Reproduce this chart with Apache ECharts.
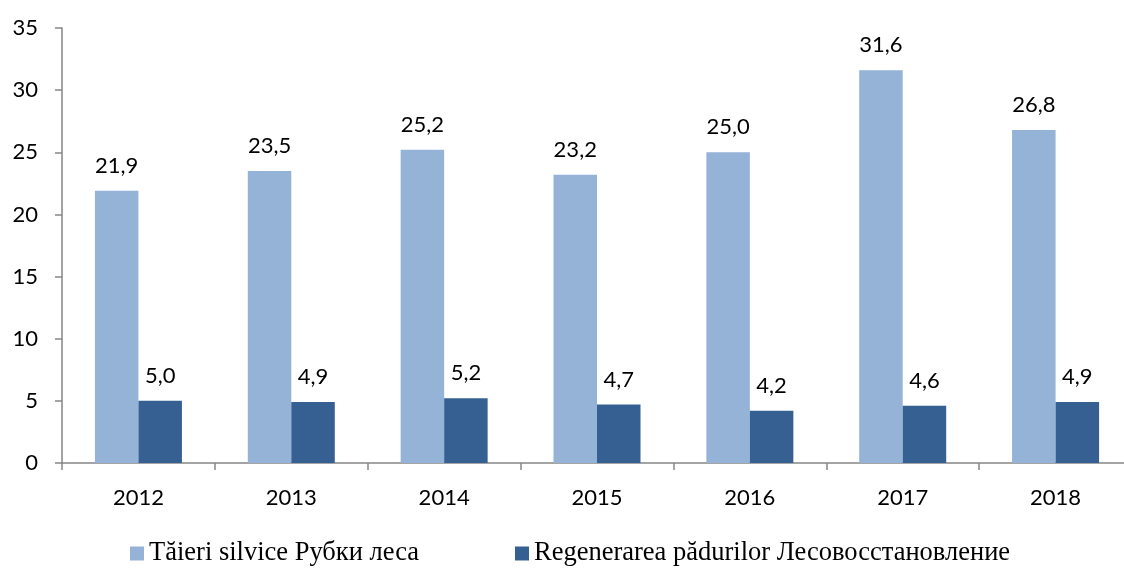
<!DOCTYPE html>
<html><head><meta charset="utf-8">
<script src="https://cdn.jsdelivr.net/npm/echarts@6/dist/echarts.min.js"></script>
<style>html,body{margin:0;padding:0;background:#fff;overflow:hidden}#c{width:1150px;height:568px}</style>
</head><body><div id="c"></div>
<script>
const years = ['2012','2013','2014','2015','2016','2017','2018'];
const taieri = [21.9, 23.5, 25.2, 23.2, 25.0, 31.6, 26.8];
const regenerare = [5.0, 4.9, 5.2, 4.7, 4.2, 4.6, 4.9];
const seriesNames = ['Tăieri silvice Рубки леса', 'Regenerarea pădurilor Лесовосстановление'];

const chart = echarts.init(document.getElementById('c'));
const labelFont = 'Lato, "Noto Sans", sans-serif';
const fmt = p => p.value.toFixed(1).replace('.', ',');
chart.setOption({
  animation: false,
  grid: {left: 62, top: 28, width: 1070, height: 435, containLabel: false},
  legend: {
    left: 130, top: 540, padding: 0, itemWidth: 14, itemHeight: 14, itemGap: 96,
    icon: 'rect',
    textStyle: {fontFamily: '"Liberation Serif", "Times New Roman", serif', fontSize: 26.5, color: '#000'},
    data: seriesNames
  },
  xAxis: {
    type: 'category', data: years,
    axisLine: {lineStyle: {color: '#868686', width: 1.5}},
    axisTick: {show: true, length: 7, lineStyle: {color: '#868686', width: 1.5}},
    axisLabel: {color: '#000', fontFamily: labelFont, fontSize: 22, margin: 24}
  },
  yAxis: {
    type: 'value', min: 0, max: 35, interval: 5,
    splitLine: {show: false},
    axisLine: {show: true, lineStyle: {color: '#868686', width: 1.5}},
    axisTick: {show: true, length: 7, lineStyle: {color: '#868686', width: 1.5}},
    axisLabel: {color: '#000', fontFamily: labelFont, fontSize: 22, margin: 24}
  },
  series: [
    {name: seriesNames[0], type: 'bar', data: taieri, barWidth: 43.5, barGap: '0%',
     itemStyle: {color: '#95B3D7'},
     label: {show: true, position: 'top', distance: 14, formatter: fmt, color: '#000', fontFamily: labelFont, fontSize: 22}},
    {name: seriesNames[1], type: 'bar', data: regenerare, barWidth: 43.5, barGap: '0%',
     itemStyle: {color: '#376092'},
     label: {show: true, position: 'top', distance: 14, formatter: fmt, color: '#000', fontFamily: labelFont, fontSize: 22}}
  ]
});
</script></body></html>
